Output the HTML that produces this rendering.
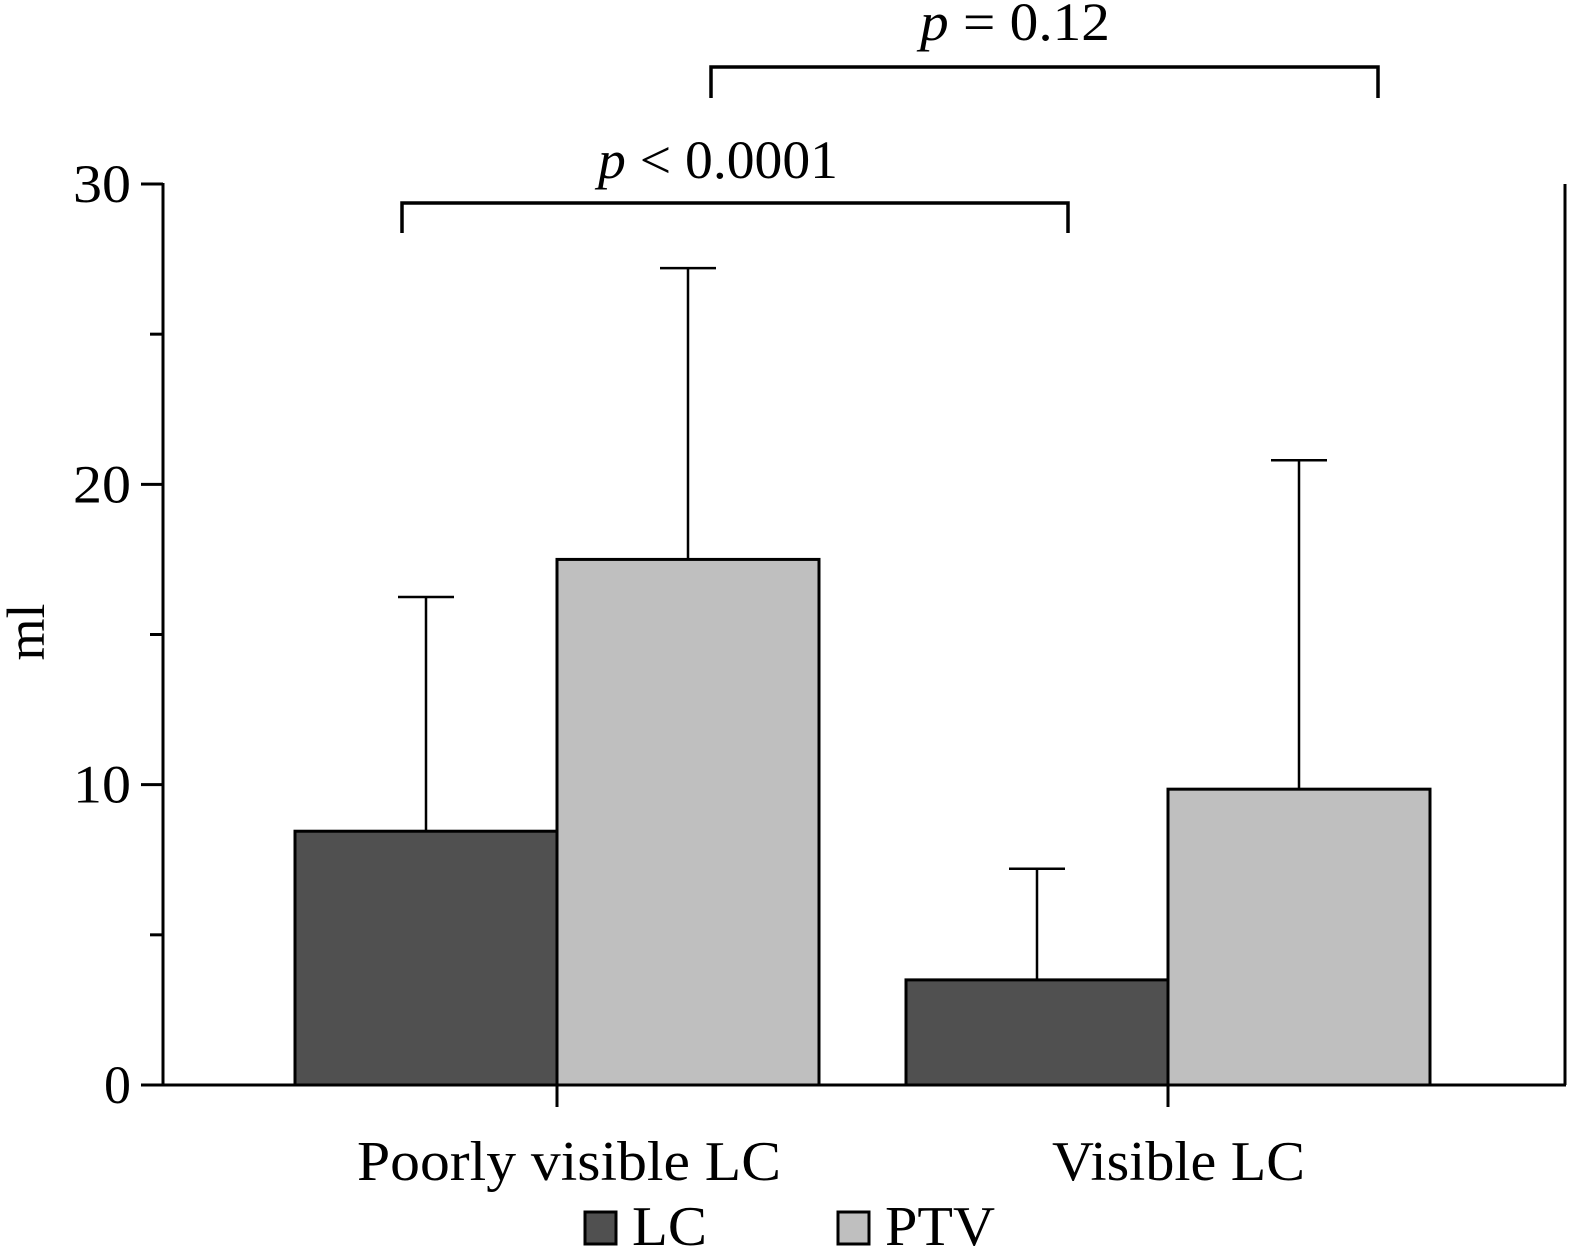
<!DOCTYPE html>
<html><head><meta charset="utf-8"><style>
html,body{margin:0;padding:0;background:#fff;}
svg{display:block;font-family:"Liberation Serif",serif;}
</style></head><body>
<svg id="chart" width="1573" height="1252" viewBox="0 0 1573 1252">
<g id="axes"></g>
<g id="bars"></g>
<g id="ann"></g>
</svg>
<script>
const categories = ["Poorly visible LC", "Visible LC"];
const seriesNames = ["LC", "PTV"];
const lcMeans = [8.45, 3.5];
const lcSD = [16.25, 7.2];
const ptvMeans = [17.5, 9.85];
const ptvSD = [27.2, 20.8];
const yTicks = [0, 10, 20, 30];
const yMinorTicks = [5, 15, 25];

const NS = "http://www.w3.org/2000/svg";
const y0 = 1085, yTop = 184, yMax = 30;
function yScale(v){ return y0 - (y0 - yTop) * v / yMax; }
const catCenters = [557, 1168];
const barW = 262;
const catLabelX = [357, 1052];
const catLabelW = [424, 253];
function mk(tag, attrs, parent, text){
  const e = document.createElementNS(NS, tag);
  for (const k in attrs) e.setAttribute(k, attrs[k]);
  if (text !== undefined) e.textContent = text;
  parent.appendChild(e); return e;
}
const axes = document.getElementById('axes');
const bars = document.getElementById('bars');
const ann = document.getElementById('ann');

let el = mk('line', {x1:163,y1:yTop-1,x2:163,y2:y0+1,stroke:'#000','stroke-width':3}, axes);


el = mk('line', {x1:141,y1:y0,x2:1566,y2:y0,stroke:'#000','stroke-width':3}, axes);


el = mk('line', {x1:1565,y1:yTop,x2:1565,y2:y0,stroke:'#000','stroke-width':3}, axes);


yTicks.forEach(v => {
  const y = yScale(v);
  let t = mk('line', {x1:141,y1:y,x2:163,y2:y,stroke:'#000','stroke-width':3}, axes);
  
  
  const s = String(v);
  let l = mk('text', {x:131,y:y+18,'text-anchor':'end','font-size':54}, axes, s);
  if (s.length === 2) { l.setAttribute('textLength', 58); l.setAttribute('lengthAdjust','spacingAndGlyphs'); }
  
  
});
yMinorTicks.forEach(v => {
  const y = yScale(v);
  let t = mk('line', {x1:150,y1:y,x2:163,y2:y,stroke:'#000','stroke-width':3}, axes);
  
  
});
el = mk('text', {x:0,y:0,'text-anchor':'middle','font-size':54,transform:'translate(44,632) rotate(-90)'}, axes, 'ml');


categories.forEach((c, i) => {
  const x = catCenters[i];
  let t = mk('line', {x1:x,y1:y0,x2:x,y2:y0+22,stroke:'#000','stroke-width':3}, axes);
  
  
  let l = mk('text', {x:catLabelX[i],y:1180,'font-size':56,textLength:catLabelW[i],lengthAdjust:'spacingAndGlyphs'}, axes, c);
  
  
});

const series = [
  {means: lcMeans, sd: lcSD, fill:'#505050', off:-1},
  {means: ptvMeans, sd: ptvSD, fill:'#bfbfbf', off:0}
];
series.forEach((s, si) => {
  s.means.forEach((m, i) => {
    const x = catCenters[i] + s.off * barW;
    const cx = x + barW/2;
    let e = mk('line', {x1:cx,y1:yScale(s.sd[i]),x2:cx,y2:yScale(m),stroke:'#000','stroke-width':2.5}, bars);
    
    
    e = mk('line', {x1:cx-28,y1:yScale(s.sd[i]),x2:cx+28,y2:yScale(s.sd[i]),stroke:'#000','stroke-width':2.5}, bars);
    
    
    e = mk('rect', {x:x,y:yScale(m),width:barW,height:y0-yScale(m),fill:s.fill,stroke:'#000','stroke-width':3}, bars);
    
    
  });
});

function bracket(x1, x2, y, yEnd, label, tx, tw, ty, name){
  let p = mk('path', {d:`M${x1},${yEnd} V${y} H${x2} V${yEnd}`,fill:'none',stroke:'#000','stroke-width':3.5}, ann);
  
  
  let t = mk('text', {x:tx,y:ty,'font-size':54,textLength:tw,lengthAdjust:'spacingAndGlyphs'}, ann);
  
  
  mk('tspan', {'font-style':'italic'}, t, 'p');
  mk('tspan', {}, t, label);
}
bracket(402, 1068, 203, 233, ' < 0.0001', 598, 240, 178, 'p-value-1');
bracket(711, 1378, 67, 98, ' = 0.12', 920, 190, 40, 'p-value-2');

const legX = [585, 838];
const legFill = ['#505050', '#bfbfbf'];
const legW = [75, 110];
seriesNames.forEach((n, i) => {
  let r = mk('rect', {x:legX[i],y:1212,width:31,height:32,fill:legFill[i],stroke:'#000','stroke-width':3}, ann);
  
  
  let t = mk('text', {x:legX[i]+47,y:1245,'font-size':56,textLength:legW[i],lengthAdjust:'spacingAndGlyphs'}, ann, n);
  
  
});
</script>
</body></html>
